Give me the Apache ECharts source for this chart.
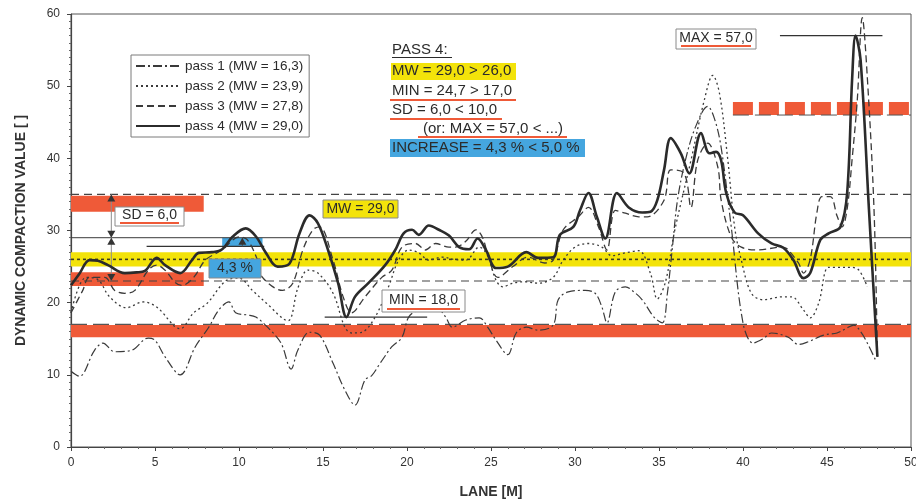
<!DOCTYPE html>
<html>
<head>
<meta charset="utf-8">
<script src="https://cdn.jsdelivr.net/npm/echarts@6/dist/echarts.min.js"></script>
<style>
  html, body { margin: 0; padding: 0; background: #fff; }
  #chart { width: 916px; height: 501px; }
</style>
</head>
<body>
<div id="chart"></div>
<script>
// ---- measured compaction values per pass: [lane position m, value] ----
const pass1 = [[0,10.5],[0.5,9.8],[1.4,13.4],[1.9,14.4],[2.6,13.2],[3.6,13.4],[4.6,15.1],[5.0,14.8],[5.6,12.5],[6.5,10.0],[7.4,13.9],[8.2,16.6],[8.8,19.0],[9.4,20.1],[9.8,18.6],[10.5,18.3],[11.0,18.0],[11.7,16.6],[12.5,14.4],[13.1,10.8],[13.5,13.4],[14.2,15.9],[14.8,15.5],[15.6,11.6],[16.3,7.9],[16.9,5.8],[17.5,9.3],[17.9,9.9],[18.4,11.6],[19.1,13.9],[19.7,15.2],[20.1,18.0],[20.7,19.0],[21.7,19.4],[22.3,18.0],[22.7,16.6],[23.5,17.6],[24.3,17.9],[24.8,16.6],[25.3,14.8],[26.0,12.8],[26.5,15.8],[27.1,16.6],[27.8,16.2],[28.7,16.9],[29.0,20.4],[29.6,21.5],[30.6,21.7],[31.2,21.3],[31.6,19.4],[31.9,17.2],[32.4,21.5],[33.0,22.2],[33.5,21.5],[34.0,20.4],[34.7,18.0],[35.2,17.2],[35.5,21.3],[35.8,27.7],[36.1,34.2],[36.6,40.0],[37.2,44.5],[37.9,47.2],[38.3,45.5],[38.7,41.5],[39.3,30.5],[40.0,17.2],[40.6,14.4],[41.2,15.0],[41.7,15.8],[42.7,15.2],[43.3,14.2],[43.9,14.6],[44.8,15.5],[45.6,15.8],[46.2,16.5],[46.6,16.9],[47.0,16.0],[47.4,14.4],[47.9,12.0]];

const pass2 = [[0,18.6],[0.9,23.5],[1.6,23.2],[2.3,20.8],[3.3,19.3],[4.3,20.1],[5.1,19.4],[6.5,16.4],[7.3,18.6],[8.1,19.9],[9.2,23.0],[10.0,23.4],[10.8,21.7],[11.6,20.0],[12.9,17.5],[13.5,22.0],[14.1,24.5],[14.7,24.1],[15.6,21.3],[16.3,16.6],[16.7,15.8],[17.3,15.9],[18.1,18.0],[18.9,22.2],[19.5,25.9],[20.1,27.3],[20.7,26.9],[21.3,25.9],[22.1,26.3],[22.8,26.0],[23.5,25.9],[24.3,27.7],[24.8,26.5],[25.3,23.1],[25.7,22.2],[26.3,22.7],[27.0,22.9],[27.8,22.7],[28.7,23.5],[29.3,25.9],[30.0,27.7],[30.8,28.2],[31.6,27.7],[32.2,26.5],[33.0,26.9],[33.8,27.2],[34.5,24.0],[34.9,20.5],[35.4,23.0],[35.9,29.6],[36.9,39.7],[37.7,48.1],[38.2,51.5],[38.6,49.0],[39.1,39.7],[39.5,30.5],[39.9,25.9],[40.5,21.3],[41.2,20.4],[42.3,20.8],[42.9,20.8],[43.6,19.0],[44.0,17.9],[44.5,19.9],[45.1,24.9],[45.8,24.9],[46.4,24.9],[46.9,24.5],[47.4,22.2]];

const pass3 = [[0,18.6],[0.7,21.7],[1.1,23.5],[2.0,23.5],[2.6,21.7],[3.2,21.3],[3.8,21.7],[4.6,24.5],[5.1,25.2],[5.6,24.5],[6.2,22.8],[6.6,22.4],[7.3,23.5],[8.0,25.9],[9.0,27.3],[10.0,29.1],[10.5,28.7],[11.1,25.9],[11.4,23.5],[12.6,21.7],[13.2,22.7],[13.8,27.3],[14.4,30.1],[14.8,30.5],[15.6,25.9],[16.2,20.8],[16.7,18.6],[17.5,20.8],[18.5,23.5],[19.1,24.5],[19.7,27.7],[20.5,28.2],[21.1,27.3],[21.7,28.2],[22.5,27.7],[22.9,27.7],[23.5,28.5],[24.1,30.1],[24.5,29.0],[24.9,25.9],[25.4,23.5],[26.3,25.0],[27.2,26.3],[28.2,25.5],[28.7,25.9],[29.3,30.1],[30.2,31.9],[30.8,33.2],[31.4,30.5],[31.9,27.3],[32.4,32.8],[33.0,32.4],[33.8,31.9],[34.3,31.9],[35.3,34.2],[35.7,38.4],[36.5,37.9],[36.9,33.2],[37.3,39.7],[37.9,42.1],[38.5,38.8],[38.7,34.2],[39.3,29.1],[39.9,27.7],[40.9,27.3],[42.3,27.7],[42.6,27.5],[43.3,25.5],[43.6,24.1],[44.0,26.0],[44.4,32.5],[44.7,34.7],[45.2,34.7],[45.6,32.0],[45.9,30.5],[46.2,33.0],[46.5,40.0],[46.8,48.0],[47.1,59.5],[47.4,51.2],[47.8,32.8],[48.0,12.5]];

const pass4 = [[0,22.4],[0.5,24.0],[1.1,25.9],[1.6,25.8],[2.2,25.2],[3.2,24.1],[3.9,24.2],[4.4,24.4],[5.1,26.2],[5.6,25.2],[6.5,24.1],[7.2,25.9],[7.6,26.9],[8.4,27.0],[9.0,27.4],[9.6,29.1],[10.4,30.3],[11.0,29.2],[11.6,26.9],[12.3,25.0],[13.0,25.4],[13.6,29.6],[14.2,32.1],[14.7,31.0],[15.3,27.3],[15.9,22.7],[16.4,18.0],[16.9,20.8],[17.7,22.7],[18.7,25.2],[19.3,27.3],[19.8,29.6],[20.3,30.1],[20.7,29.4],[21.3,30.7],[21.9,30.1],[22.5,29.3],[23.1,27.7],[23.7,27.4],[24.2,28.9],[24.7,27.3],[25.3,24.8],[26.0,25.0],[27.1,27.0],[27.8,26.2],[28.7,26.3],[29.1,29.4],[29.9,30.5],[30.3,32.8],[30.8,35.2],[31.3,31.9],[31.8,28.9],[32.5,35.2],[33.2,33.2],[34.0,32.5],[34.5,32.6],[34.9,34.2],[35.3,38.4],[35.7,42.8],[36.3,40.7],[36.8,37.9],[37.5,43.5],[38.0,40.7],[38.4,40.9],[38.7,39.7],[39.0,35.2],[39.5,32.5],[40.0,32.1],[40.9,29.6],[41.7,28.2],[42.4,27.6],[43.0,25.9],[43.6,23.4],[44.0,24.1],[44.6,28.7],[45.1,29.6],[45.8,30.5],[46.2,35.2],[46.5,51.2],[46.7,57.0],[47.0,53.6],[47.5,32.8],[48.0,12.5]];

const passNames = ['pass 1 (MW = 16,3)', 'pass 2 (MW = 23,9)', 'pass 3 (MW = 27,8)', 'pass 4 (MW = 29,0)'];

// ---- pass 4 statistics and acceptance criteria ----
const MW4 = 29.0, SD4 = 6.0, MIN4 = 18.0, MAX4 = 57.0;
const MW3 = 27.8;          // mean of previous pass (for the increase)
const MW_REQ = 26.0, MIN_REQ = 17.0;

// bands: [xFrom, xTo, yFrom, yTo]
const yellowBands = [[0, 50, 25.0, 27.0]];
const redBands = [[0, 7.9, 32.6, 34.8], [0, 7.9, 22.3, 24.2], [0, 50, 15.2, 16.9]];
const blueBands = [[9.0, 11.4, MW3, MW4]];
const redDashBands = [[39.4, 50, 46.0, 47.8]];

// horizontal reference segments: [xFrom, xTo, y]
const mwLines = [[0, 50, MW4]];
const sdLines = [[0, 50, MW4 + SD4], [0, 50, MW4 - SD4]];
const reqMwLines = [[0, 50, MW_REQ]];
const reqMinLines = [[0, 50, MIN_REQ]];
const minLines = [[15.1, 21.2, MIN4]];
const maxLines = [[42.2, 48.3, MAX4]];
const prevMwLines = [[4.5, 11.5, MW3]];
const maxReqLines = [[39.4, 50, 46.0]];

// arrows: [x, yFrom, yTo, doubleHeaded]
const sdArrows = [[2.4, MW4, MW4 + SD4, 1], [2.4, MW4, MW4 - SD4, 1]];
const incArrows = [[10.2, MW3, MW4, 0]];

const FONT = 'Liberation Sans, Arial, sans-serif';
const RED = '#ef5a38';
const YELLOW = '#f3e30a';
const BLUE = '#45a6df';
const INK = '#2b2b2b';

function rectSeries(data, fill, z) {
  return {
    type: 'custom', silent: true, z: z, data: data,
    encode: { x: [0, 1], y: [2, 3] },
    renderItem: function (params, api) {
      const a = api.coord([api.value(0), api.value(3)]);
      const b = api.coord([api.value(1), api.value(2)]);
      return { type: 'rect', shape: { x: a[0], y: a[1], width: b[0] - a[0], height: b[1] - a[1] }, style: { fill: fill } };
    }
  };
}

function dashBandSeries(data, fill, dash, z) {
  return {
    type: 'custom', silent: true, z: z, data: data,
    encode: { x: [0, 1], y: [2, 3] },
    renderItem: function (params, api) {
      const a = api.coord([api.value(0), api.value(3)]);
      const b = api.coord([api.value(1), api.value(2)]);
      const yc = (a[1] + b[1]) / 2;
      return { type: 'line', shape: { x1: a[0], y1: yc, x2: b[0], y2: yc },
        style: { stroke: fill, lineWidth: b[1] - a[1], lineDash: dash } };
    }
  };
}

function segSeries(data, stroke, width, dash, z) {
  return {
    type: 'custom', silent: true, z: z, data: data,
    encode: { x: [0, 1], y: 2 },
    renderItem: function (params, api) {
      const a = api.coord([api.value(0), api.value(2)]);
      const b = api.coord([api.value(1), api.value(2)]);
      return { type: 'line', shape: { x1: a[0], y1: a[1], x2: b[0], y2: b[1] },
        style: { stroke: stroke, lineWidth: width, lineDash: dash || null } };
    }
  };
}

function arrowSeries(data, stroke, head, z) {
  return {
    type: 'custom', silent: true, z: z, data: data,
    encode: { x: 0, y: [1, 2] },
    renderItem: function (params, api) {
      const p0 = api.coord([api.value(0), api.value(1)]);
      const p1 = api.coord([api.value(0), api.value(2)]);
      const dir = p1[1] < p0[1] ? -1 : 1;
      const w = 4, h = 7;
      const tri = function (tip, d) {
        return { type: 'polygon', shape: { points: [[tip[0], tip[1]], [tip[0] - w, tip[1] - d * h], [tip[0] + w, tip[1] - d * h]] }, style: { fill: head } };
      };
      const children = [
        { type: 'line', shape: { x1: p0[0], y1: p0[1], x2: p1[0], y2: p1[1] }, style: { stroke: stroke, lineWidth: 1 } },
        tri(p1, dir)
      ];
      if (api.value(3)) children.push(tri(p0, -dir));
      return { type: 'group', children: children };
    }
  };
}

const passStyles = [
  { color: '#3a3a3a', width: 1.2, type: [9, 3, 2, 3] },
  { color: '#3a3a3a', width: 1.3, type: [2, 3] },
  { color: '#3a3a3a', width: 1.3, type: [7, 4] },
  { color: INK, width: 2.6, type: 'solid' }
];
const passData = [pass1, pass2, pass3, pass4];

const passSeries = passData.map(function (d, i) {
  return {
    name: passNames[i], type: 'line', data: d, smooth: 0.35,
    symbol: 'none', showSymbol: false,
    z: 10 + i,
    lineStyle: { color: passStyles[i].color, width: passStyles[i].width, type: passStyles[i].type },
    itemStyle: { color: passStyles[i].color }
  };
});

// annotation boxes and the criteria text block
function label(x, y, w, h, text, fill, underline) {
  const els = [
    { type: 'rect', shape: { x: x, y: y, width: w, height: h }, style: { fill: fill, stroke: '#8a8a8a', lineWidth: 1 } },
    { type: 'text', x: x + w / 2, y: y + h / 2 - (underline ? 1 : 0), style: { text: text, font: '14px ' + FONT, fill: INK, align: 'center', verticalAlign: 'middle' } }
  ];
  if (underline) {
    els.push({ type: 'rect', shape: { x: x + 5, y: y + h - 4, width: w - 10, height: 2 }, style: { fill: RED } });
  }
  return els;
}

const tx = 392;
const blockTexts = [
  ['PASS 4:', 50], ['MW = 29,0 > 26,0', 71], ['MIN = 24,7 > 17,0', 91],
  ['SD = 6,0 < 10,0', 110], ['(or: MAX = 57,0 < ...)', 129], ['INCREASE = 4,3 % < 5,0 %', 148]
];

let graphics = [];
graphics.push({ type: 'rect', shape: { x: 391, y: 63, width: 125, height: 17 }, style: { fill: YELLOW } });
graphics.push({ type: 'rect', shape: { x: 390, y: 139, width: 195, height: 18 }, style: { fill: BLUE } });
blockTexts.forEach(function (t, i) {
  graphics.push({ type: 'text', x: i === 4 ? 423 : tx, y: t[1], style: { text: t[0], font: '15px ' + FONT, fill: INK, verticalAlign: 'middle' } });
});
graphics.push({ type: 'rect', shape: { x: 392, y: 57, width: 60, height: 1 }, style: { fill: INK } });
graphics.push({ type: 'rect', shape: { x: 390, y: 99, width: 126, height: 2 }, style: { fill: RED } });
graphics.push({ type: 'rect', shape: { x: 390, y: 118, width: 112, height: 2 }, style: { fill: RED } });
graphics.push({ type: 'rect', shape: { x: 418, y: 136, width: 149, height: 2 }, style: { fill: RED } });

graphics = graphics
  .concat(label(115, 207, 69, 19, 'SD = 6,0', '#ffffff', true))
  .concat(label(323, 200, 75, 18, 'MW = 29,0', YELLOW, false))
  .concat(label(382, 290, 83, 22, 'MIN = 18,0', '#ffffff', true))
  .concat(label(209, 259, 52, 19, '4,3 %', BLUE, false))
  .concat(label(676, 29, 80, 20, 'MAX = 57,0', '#ffffff', true));

graphics.forEach(function (g) { g.z = 100; g.silent = true; });

const chart = echarts.init(document.getElementById('chart'), null, { renderer: 'canvas' });
chart.setOption({
  animation: false,
  backgroundColor: '#ffffff',
  textStyle: { fontFamily: FONT },
  grid: {
    left: 71, right: 5, top: 14, bottom: 54,
    outerBoundsMode: 'none', containLabel: false,
    show: true, borderColor: '#555', borderWidth: 1, backgroundColor: 'transparent'
  },
  legend: {
    data: passNames, orient: 'vertical', left: 131, top: 55,
    borderColor: '#7a7a7a', borderWidth: 1, padding: [4, 6, 4, 4],
    itemWidth: 44, itemHeight: 14, itemGap: 6,
    itemStyle: { opacity: 0 },
    textStyle: { fontSize: 13.5, color: INK, fontFamily: FONT },
    backgroundColor: '#ffffff', z: 50
  },
  xAxis: {
    type: 'value', min: 0, max: 50, interval: 5,
    name: 'LANE [M]', nameLocation: 'middle', nameGap: 38,
    nameTextStyle: { fontSize: 14, fontWeight: 'bold', color: '#333', fontFamily: FONT },
    axisLine: { lineStyle: { color: '#444', width: 1.2 } },
    axisTick: { length: 4, lineStyle: { color: '#444' } },
    minorTick: { show: true, splitNumber: 5, length: 2, lineStyle: { color: '#666' } },
    axisLabel: { fontSize: 12, color: '#333', margin: 10 },
    splitLine: { show: false }
  },
  yAxis: {
    type: 'value', min: 0, max: 60, interval: 10,
    name: 'DYNAMIC COMPACTION VALUE [ ]', nameLocation: 'middle', nameGap: 43,
    nameTextStyle: { fontSize: 14, fontWeight: 'bold', color: '#333', fontFamily: FONT },
    axisLine: { show: true, lineStyle: { color: '#444', width: 1.2 } },
    axisTick: { length: 4, lineStyle: { color: '#444' } },
    minorTick: { show: true, splitNumber: 10, length: 2, lineStyle: { color: '#666' } },
    axisLabel: { fontSize: 12, color: '#333', margin: 11 },
    splitLine: { show: false }
  },
  graphic: graphics,
  series: [
    rectSeries(redBands, RED, 1),
    rectSeries(yellowBands, YELLOW, 1),
    rectSeries(blueBands, BLUE, 1),
    dashBandSeries(redDashBands, RED, [20, 6], 1),
    segSeries(mwLines, '#3a3a3a', 1, null, 3),
    segSeries(sdLines, '#444', 1.2, [8, 5], 3),
    segSeries(reqMwLines, '#3c3c20', 1.6, [3, 3], 3),
    segSeries(reqMinLines, '#555', 1.2, [16, 6], 3),
    segSeries(maxReqLines, '#555', 1, [16, 6], 3),
    segSeries(prevMwLines, '#333', 1.2, null, 3),
    segSeries(minLines, '#333', 1.2, null, 3),
    segSeries(maxLines, '#333', 1.2, null, 3),
    arrowSeries(sdArrows, '#8c8c8c', '#333', 4),
    arrowSeries(incArrows, '#555', '#333', 4)
  ].concat(passSeries)
});
</script>
</body>
</html>
